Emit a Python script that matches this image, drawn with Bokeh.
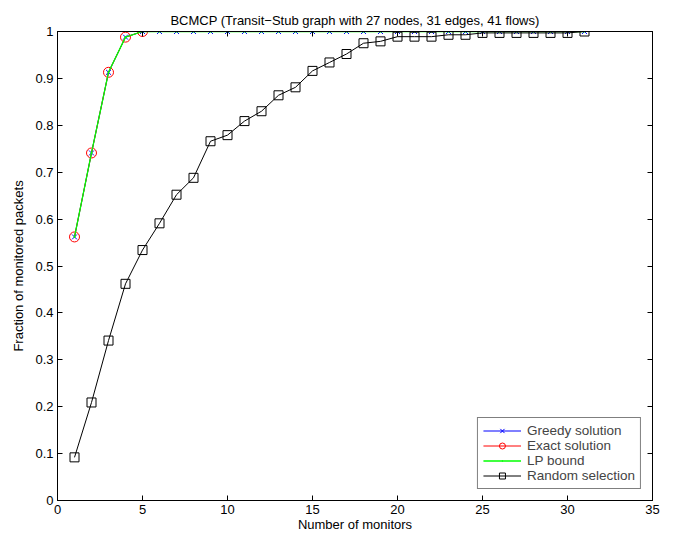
from bokeh.plotting import figure
from bokeh.models import (FixedTicker, CustomJSTickFormatter, LinearAxis, Legend, LegendItem,
                          Range1d, Title)
from bokeh.embed import file_html
from bokeh.resources import INLINE

# ---- data ----
monitors = list(range(1, 32))
greedy = [0.562, 0.741, 0.913, 0.988] + [1.0] * 27
exact_x = [1, 2, 3, 4, 5]
exact = [0.562, 0.741, 0.913, 0.988, 1.0]
lp_bound = [0.562, 0.741, 0.913, 0.988] + [1.0] * 27
random_sel = [0.092, 0.209, 0.341, 0.462, 0.534, 0.591, 0.652, 0.688, 0.766, 0.779,
              0.809, 0.830, 0.864, 0.881, 0.916, 0.934, 0.952, 0.975, 0.979, 0.989,
              0.989, 0.989, 0.993, 0.993, 0.997, 0.997, 0.997, 0.997, 0.997, 0.997, 1.0]
x_ticks = [0, 5, 10, 15, 20, 25, 30, 35]
y_ticks = [0, 0.1, 0.2, 0.3, 0.4, 0.5, 0.6, 0.7, 0.8, 0.9, 1]

FONT = "Liberation Sans"

p = figure(width=679, height=535, output_backend="svg", toolbar_location=None,
           x_range=Range1d(0, 35), y_range=Range1d(0, 1),
           min_border_left=57, min_border_right=27, min_border_top=31, min_border_bottom=35)
p.background_fill_color = "white"
p.border_fill_color = "white"
p.outline_line_color = "black"
p.outline_line_width = 1
p.xgrid.visible = False
p.ygrid.visible = False

p.title = Title(text="BCMCP (Transit\u2212Stub graph with 27 nodes, 31 edges, 41 flows)",
                align="center", text_font=FONT, text_font_size="13px",
                text_font_style="normal", text_color="black", standoff=7, offset=0)

fmt = CustomJSTickFormatter(code="return String(Math.round(tick*10)/10);")
for ax in p.xaxis + p.yaxis:
    ax.major_tick_in = 5
    ax.major_tick_out = 0
    ax.minor_tick_in = 0
    ax.minor_tick_out = 0
    ax.axis_line_color = "black"
    ax.major_tick_line_color = "black"
    ax.major_label_text_font = FONT
    ax.major_label_text_font_size = "13px"
    ax.major_label_text_color = "black"
    ax.axis_label_text_font = FONT
    ax.axis_label_text_font_size = "13px"
    ax.axis_label_text_font_style = "normal"
    ax.axis_label_text_color = "black"
p.xaxis.ticker = FixedTicker(ticks=x_ticks)
p.yaxis.ticker = FixedTicker(ticks=y_ticks)
p.yaxis.formatter = fmt
p.xaxis.formatter = fmt
p.xaxis.axis_label = "Number of monitors"
p.yaxis.axis_label = "Fraction of monitored packets"
p.xaxis.major_label_standoff = 4
p.yaxis.major_label_standoff = 4
p.xaxis.axis_label_standoff = 0
p.yaxis.axis_label_standoff = 6

# mirrored ticks on top and right (no labels)
blank = CustomJSTickFormatter(code="return '';")
top = LinearAxis(ticker=FixedTicker(ticks=x_ticks), formatter=blank, major_tick_in=5,
                 major_tick_out=0, minor_tick_in=0, minor_tick_out=0, major_label_standoff=0)
right = LinearAxis(ticker=FixedTicker(ticks=y_ticks), formatter=blank, major_tick_in=5,
                   major_tick_out=0, minor_tick_in=0, minor_tick_out=0, major_label_standoff=0)
p.add_layout(top, "above")
p.add_layout(right, "right")

g_line = p.line(monitors, greedy, line_color="#0000ff", line_width=1)
g_mark = p.scatter(monitors, greedy, marker="x", size=7, line_color="#0000ff", line_width=1)
e_line = p.line(exact_x, exact, line_color="#ff0000", line_width=1)
e_mark = p.scatter(exact_x, exact, marker="circle", size=10, line_color="#ff0000",
                   fill_color=None, line_width=1)
l_line = p.line(monitors, lp_bound, line_color="#00ff00", line_width=1.3)
l_mark = p.scatter(monitors, lp_bound, marker="dot", size=8, line_color="#00ff00",
                   fill_color="#00ff00")
r_line = p.line(monitors, random_sel, line_color="black", line_width=1)
r_mark = p.scatter(monitors, random_sel, marker="square", size=9, line_color="black",
                   fill_color=None, line_width=1)

legend = Legend(items=[
    LegendItem(label="Greedy solution", renderers=[g_line, g_mark]),
    LegendItem(label="Exact solution", renderers=[e_line, e_mark]),
    LegendItem(label="LP bound", renderers=[l_line, l_mark]),
    LegendItem(label="Random selection", renderers=[r_line, r_mark]),
], location="bottom_right")
legend.margin = 11
legend.padding = 5
legend.spacing = 0
legend.glyph_width = 38
legend.glyph_height = 15
legend.label_height = 15
legend.label_standoff = 6
legend.label_text_font = FONT
legend.label_text_font_size = "13.5px"
legend.border_line_color = "black"
legend.border_line_width = 1
legend.background_fill_alpha = 1
legend.background_fill_color = "white"
p.add_layout(legend, "center")

open("out.html", "w").write(file_html(p, INLINE))
